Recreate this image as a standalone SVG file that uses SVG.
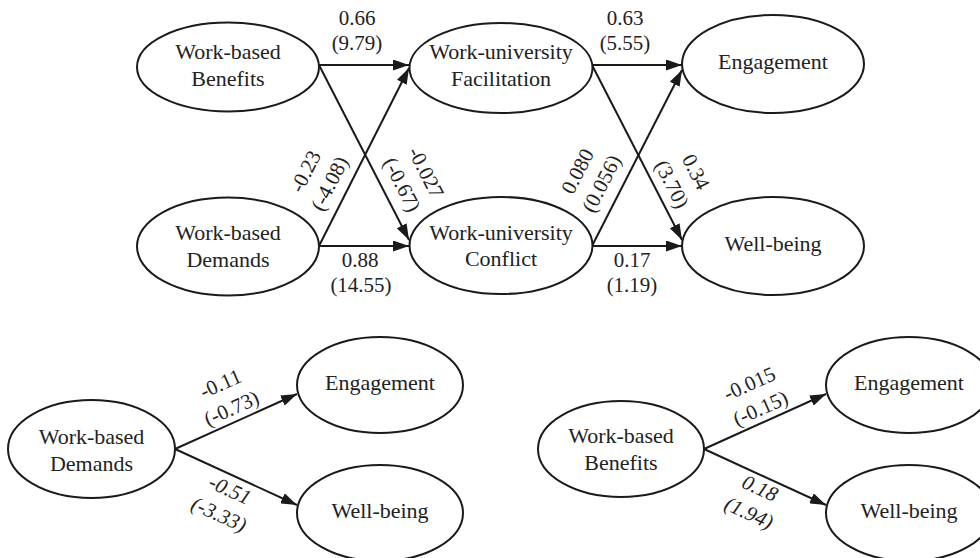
<svg xmlns="http://www.w3.org/2000/svg" width="980" height="558" viewBox="0 0 980 558">
<style>
  .node ellipse { fill: #ffffff; stroke: #1a1a1a; stroke-width: 2; }
  .node text { font-family: "Liberation Serif", "Times New Roman", serif; font-size: 22px; fill: #222222; text-anchor: middle; }
  .lbl { font-family: "Liberation Serif", "Times New Roman", serif; font-size: 21px; fill: #222222; text-anchor: middle; }
  .it { font-style: italic; }
  .edge { stroke: #1a1a1a; stroke-width: 2; fill: none; marker-end: url(#arr); }
</style>
<defs>
  <marker id="arr" markerUnits="userSpaceOnUse" markerWidth="16" markerHeight="11" refX="16" refY="5.5" orient="auto">
    <path d="M0,0 L16,5.5 L0,11 z" fill="#1a1a1a"/>
  </marker>
</defs>
<rect width="980" height="558" fill="#ffffff"/>

<g id="connectors">
  <line class="edge" x1="319" y1="65" x2="409" y2="65"/>
  <line class="edge" x1="319" y1="65" x2="409" y2="240"/>
  <line class="edge" x1="319" y1="246" x2="409" y2="68"/>
  <line class="edge" x1="319" y1="246" x2="409" y2="246"/>
  <line class="edge" x1="592" y1="65" x2="682" y2="65"/>
  <line class="edge" x1="592" y1="65" x2="682" y2="240"/>
  <line class="edge" x1="592" y1="246" x2="682" y2="70"/>
  <line class="edge" x1="592" y1="246" x2="682" y2="246"/>
  <line class="edge" x1="175" y1="449" x2="297" y2="394"/>
  <line class="edge" x1="175" y1="449" x2="297" y2="505"/>
  <line class="edge" x1="704" y1="449" x2="826" y2="394"/>
  <line class="edge" x1="704" y1="449" x2="826" y2="505"/>
</g>

<g id="node-benefits" class="node">
  <ellipse cx="228" cy="67" rx="91" ry="44.5"/>
  <text x="228" y="59">Work-based</text>
  <text x="228" y="86">Benefits</text>
</g>
<g id="node-demands" class="node">
  <ellipse cx="228" cy="246.5" rx="91" ry="49"/>
  <text x="228" y="240">Work-based</text>
  <text x="228" y="267">Demands</text>
</g>
<g id="node-facilitation" class="node">
  <ellipse cx="501" cy="68" rx="91.5" ry="45"/>
  <text x="501" y="59">Work-university</text>
  <text x="501" y="86">Facilitation</text>
</g>
<g id="node-conflict" class="node">
  <ellipse cx="501" cy="245.5" rx="91.5" ry="48.5"/>
  <text x="501" y="240">Work-university</text>
  <text x="501" y="266">Conflict</text>
</g>
<g id="node-engagement" class="node">
  <ellipse cx="773" cy="64" rx="91" ry="49"/>
  <text x="773" y="69">Engagement</text>
</g>
<g id="node-wellbeing" class="node">
  <ellipse cx="773" cy="246" rx="91" ry="49"/>
  <text x="773" y="251">Well-being</text>
</g>

<g id="node-demands-2" class="node">
  <ellipse cx="91.5" cy="449" rx="83.5" ry="49"/>
  <text x="91.5" y="444">Work-based</text>
  <text x="91.5" y="471">Demands</text>
</g>
<g id="node-engagement-2" class="node">
  <ellipse cx="380" cy="385" rx="83" ry="48"/>
  <text x="380" y="390">Engagement</text>
</g>
<g id="node-wellbeing-2" class="node">
  <ellipse cx="380" cy="513" rx="83" ry="48"/>
  <text x="380" y="518">Well-being</text>
</g>

<g id="node-benefits-3" class="node">
  <ellipse cx="621" cy="449" rx="83" ry="48"/>
  <text x="621" y="443">Work-based</text>
  <text x="621" y="470">Benefits</text>
</g>
<g id="node-engagement-3" class="node">
  <ellipse cx="909" cy="385" rx="83" ry="48"/>
  <text x="909" y="390">Engagement</text>
</g>
<g id="node-wellbeing-3" class="node">
  <ellipse cx="909" cy="513" rx="83" ry="48"/>
  <text x="909" y="518">Well-being</text>
</g>

<g id="labels">
  <text class="lbl" x="357" y="25">0.66</text>
  <text class="lbl" x="357" y="50">(9.79)</text>
  <text class="lbl" x="360" y="267">0.88</text>
  <text class="lbl" x="361" y="292">(14.55)</text>
  <text class="lbl" x="625" y="25">0.63</text>
  <text class="lbl" x="625" y="50">(5.55)</text>
  <text class="lbl" x="632" y="267">0.17</text>
  <text class="lbl" x="632" y="292">(1.19)</text>

  <text class="lbl" transform="translate(317.5,177.5) rotate(-63)"><tspan x="0" y="-6.5">-0.23</tspan><tspan x="0" y="20.5">(-4.08)</tspan></text>
  <text class="lbl" transform="translate(414,178.5) rotate(63)"><tspan x="0" y="-6.5">-0.027</tspan><tspan x="0" y="20.5">(-0.67)</tspan></text>
  <text class="lbl" transform="translate(589.5,177.5) rotate(-63)"><tspan x="0" y="-6.5">0.080</tspan><tspan x="0" y="20.5">(0.056)</tspan></text>
  <text class="lbl" transform="translate(684,178) rotate(63)"><tspan x="0" y="-6.5">0.34</tspan><tspan x="0" y="20.5">(3.70)</tspan></text>

  <text class="lbl" transform="translate(226,396) rotate(-24)"><tspan x="0" y="-6.5">-0.11</tspan><tspan x="0" y="20.5">(-0.73)</tspan></text>
  <text class="lbl it" transform="translate(224.5,502) rotate(24.5)"><tspan x="0" y="-6.5">-0.51</tspan><tspan x="0" y="20.5">(-3.33)</tspan></text>
  <text class="lbl" transform="translate(755,396) rotate(-24)"><tspan x="0" y="-6.5">-0.015</tspan><tspan x="0" y="20.5">(-0.15)</tspan></text>
  <text class="lbl it" transform="translate(754.5,500.5) rotate(24.5)"><tspan x="0" y="-6.5">0.18</tspan><tspan x="0" y="20.5">(1.94)</tspan></text>
</g>
</svg>
